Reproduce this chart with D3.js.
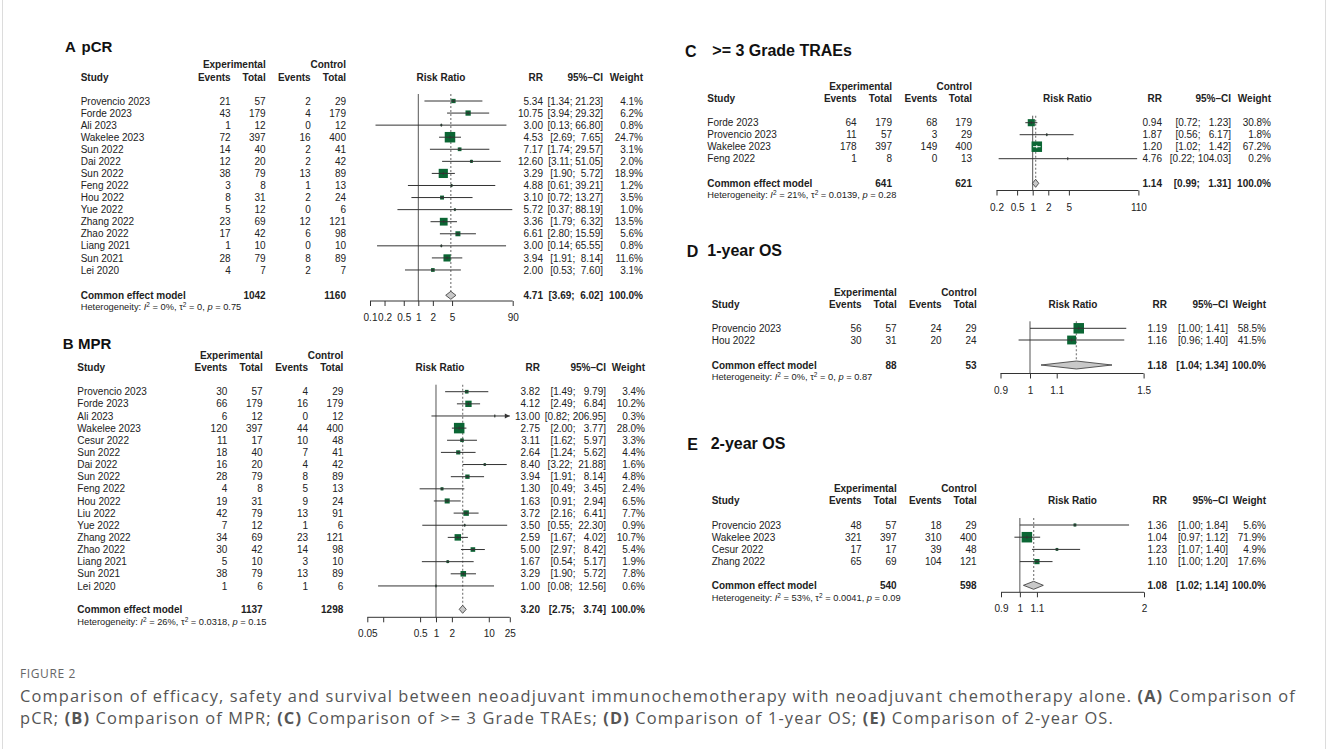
<!DOCTYPE html>
<html>
<head>
<meta charset="utf-8">
<script src="https://cdn.jsdelivr.net/npm/d3@7"></script>
<style>
  body { margin: 0; background: #fff; }
  svg text { font-family: "Liberation Sans", Arial, Helvetica, sans-serif; fill: #222; }
  svg text.cap { font-family: "Open Sans", "Noto Sans", sans-serif; }
</style>
</head>
<body>
<svg id="fig" width="1328" height="749"></svg>
<script>
/***************************************************************
    Data
****************************************************************/
// A - pCR
const pcrStudy = ["Provencio 2023", "Forde 2023", "Ali 2023", "Wakelee 2023", "Sun 2022", "Dai 2022", "Sun 2022", "Feng 2022",
                  "Hou 2022", "Yue 2022", "Zhang 2022", "Zhao 2022", "Liang 2021", "Sun 2021", "Lei 2020"];
const pcrExpEvents = [21, 43, 1, 72, 14, 12, 38, 3, 8, 5, 23, 17, 1, 28, 4];
const pcrExpTotal = [57, 179, 12, 397, 40, 20, 79, 8, 31, 12, 69, 42, 10, 79, 7];
const pcrCtlEvents = [2, 4, 0, 16, 2, 2, 13, 1, 2, 0, 12, 6, 0, 8, 2];
const pcrCtlTotal = [29, 179, 12, 400, 41, 42, 89, 13, 24, 6, 121, 98, 10, 89, 7];
const pcrRR = [5.34, 10.75, 3.00, 4.53, 7.17, 12.60, 3.29, 4.88, 3.10, 5.72, 3.36, 6.61, 3.00, 3.94, 2.00];
const pcrLower = [1.34, 3.94, 0.13, 2.69, 1.74, 3.11, 1.90, 0.61, 0.72, 0.37, 1.79, 2.80, 0.14, 1.91, 0.53];
const pcrUpper = [21.23, 29.32, 66.80, 7.65, 29.57, 51.05, 5.72, 39.21, 13.27, 88.19, 6.32, 15.59, 65.55, 8.14, 7.60];
const pcrWeight = [4.1, 6.2, 0.8, 24.7, 3.1, 2.0, 18.9, 1.2, 3.5, 1.0, 13.5, 5.6, 0.8, 11.6, 3.1];
const pcrPooled = [4.71, 3.69, 6.02];
const pcrTotals = [1042, 1160];
const pcrHet = ["0%", "0", "0.75"];
const pcrTicks = [0.1, 0.2, 0.5, 1, 2, 5, 90];
const pcrTickLabels = ["0.1", "0.2", "0.5", "1", "2", "5", "90"];

// B - MPR
const mprStudy = ["Provencio 2023", "Forde 2023", "Ali 2023", "Wakelee 2023", "Cesur 2022", "Sun 2022", "Dai 2022", "Sun 2022",
                  "Feng 2022", "Hou 2022", "Liu 2022", "Yue 2022", "Zhang 2022", "Zhao 2022", "Liang 2021", "Sun 2021", "Lei 2020"];
const mprExpEvents = [30, 66, 6, 120, 11, 18, 16, 28, 4, 19, 42, 7, 34, 30, 5, 38, 1];
const mprExpTotal = [57, 179, 12, 397, 17, 40, 20, 79, 8, 31, 79, 12, 69, 42, 10, 79, 6];
const mprCtlEvents = [4, 16, 0, 44, 10, 7, 4, 8, 5, 9, 13, 1, 23, 14, 3, 13, 1];
const mprCtlTotal = [29, 179, 12, 400, 48, 41, 42, 89, 13, 24, 91, 6, 121, 98, 10, 89, 6];
const mprRR = [3.82, 4.12, 13.00, 2.75, 3.11, 2.64, 8.40, 3.94, 1.30, 1.63, 3.72, 3.50, 2.59, 5.00, 1.67, 3.29, 1.00];
const mprLower = [1.49, 2.49, 0.82, 2.00, 1.62, 1.24, 3.22, 1.91, 0.49, 0.91, 2.16, 0.55, 1.67, 2.97, 0.54, 1.90, 0.08];
const mprUpper = [9.79, 6.84, 206.95, 3.77, 5.97, 5.62, 21.88, 8.14, 3.45, 2.94, 6.41, 22.30, 4.02, 8.42, 5.17, 5.72, 12.56];
const mprWeight = [3.4, 10.2, 0.3, 28.0, 3.3, 4.4, 1.6, 4.8, 2.4, 6.5, 7.7, 0.9, 10.7, 5.4, 1.9, 7.8, 0.6];
const mprPooled = [3.20, 2.75, 3.74];
const mprTotals = [1137, 1298];
const mprHet = ["26%", "0.0318", "0.15"];
const mprTicks = [0.05, 0.1, 0.5, 1, 2, 10, 25];
const mprTickLabels = ["0.05", "", "0.5", "1", "2", "10", "25"];

// C - >= 3 Grade TRAEs
const traeStudy = ["Forde 2023", "Provencio 2023", "Wakelee 2023", "Feng 2022"];
const traeExpEvents = [64, 11, 178, 1];
const traeExpTotal = [179, 57, 397, 8];
const traeCtlEvents = [68, 3, 149, 0];
const traeCtlTotal = [179, 29, 400, 13];
const traeRR = [0.94, 1.87, 1.20, 4.76];
const traeLower = [0.72, 0.56, 1.02, 0.22];
const traeUpper = [1.23, 6.17, 1.42, 104.03];
const traeWeight = [30.8, 1.8, 67.2, 0.2];
const traePooled = [1.14, 0.99, 1.31];
const traeTotals = [641, 621];
const traeHet = ["21%", "0.0139", "0.28"];
const traeTicks = [0.2, 0.5, 1, 2, 5, 110];
const traeTickLabels = ["0.2", "0.5", "1", "2", "5", "110"];

// D - 1-year OS
const os1Study = ["Provencio 2023", "Hou 2022"];
const os1ExpEvents = [56, 30];
const os1ExpTotal = [57, 31];
const os1CtlEvents = [24, 20];
const os1CtlTotal = [29, 24];
const os1RR = [1.19, 1.16];
const os1Lower = [1.00, 0.96];
const os1Upper = [1.41, 1.40];
const os1Weight = [58.5, 41.5];
const os1Pooled = [1.18, 1.04, 1.34];
const os1Totals = [88, 53];
const os1Het = ["0%", "0", "0.87"];
const os1Ticks = [0.9, 1, 1.1, 1.5];
const os1TickLabels = ["0.9", "1", "1.1", "1.5"];

// E - 2-year OS
const os2Study = ["Provencio 2023", "Wakelee 2023", "Cesur 2022", "Zhang 2022"];
const os2ExpEvents = [48, 321, 17, 65];
const os2ExpTotal = [57, 397, 17, 69];
const os2CtlEvents = [18, 310, 39, 104];
const os2CtlTotal = [29, 400, 48, 121];
const os2RR = [1.36, 1.04, 1.23, 1.10];
const os2Lower = [1.00, 0.97, 1.07, 1.00];
const os2Upper = [1.84, 1.12, 1.40, 1.20];
const os2Weight = [5.6, 71.9, 4.9, 17.6];
const os2Pooled = [1.08, 1.02, 1.14];
const os2Totals = [540, 598];
const os2Het = ["53%", "0.0041", "0.09"];
const os2Ticks = [0.9, 1, 1.1, 2];
const os2TickLabels = ["0.9", "1", "1.1", "2"];

const captionLine1 = ["Comparison of efficacy, safety and survival between neoadjuvant immunochemotherapy with neoadjuvant chemotherapy alone. ", "(A)", " Comparison of"];
const captionLine2 = ["pCR; ", "(B)", " Comparison of MPR; ", "(C)", " Comparison of >= 3 Grade TRAEs; ", "(D)", " Comparison of 1-year OS; ", "(E)", " Comparison of 2-year OS."];

/***************************************************************
    Panel layout
****************************************************************/
const panels = [
  { label: "A", title: "pCR", titleSize: 15, labelX: 65, titleX: 81.5, labelY: 51.5, titleY: 51.5,
    study: pcrStudy, expE: pcrExpEvents, expN: pcrExpTotal, ctlE: pcrCtlEvents, ctlN: pcrCtlTotal,
    rr: pcrRR, lo: pcrLower, hi: pcrUpper, w: pcrWeight, pooled: pcrPooled, totals: pcrTotals, het: pcrHet,
    ticks: pcrTicks, tickLabels: pcrTickLabels,
    studyX: 80.7, cols: [230.7, 265.7, 310.7, 346], head1Y: 64.3, head2Y: 77.3,
    row0: 101, rowStep: 12.07, pooledY: 295.3, hetY: 306.7, axisY: 301,
    domain: [0.1, 90], range: [370, 512.7], riskX: 441, rrX: 543, ciX: 603, wX: 643 },
  { label: "B", title: "MPR", titleSize: 15, labelX: 62.7, titleX: 78, labelY: 348.5, titleY: 348.5,
    study: mprStudy, expE: mprExpEvents, expN: mprExpTotal, ctlE: mprCtlEvents, ctlN: mprCtlTotal,
    rr: mprRR, lo: mprLower, hi: mprUpper, w: mprWeight, pooled: mprPooled, totals: mprTotals, het: mprHet,
    ticks: mprTicks, tickLabels: mprTickLabels,
    studyX: 77.3, cols: [227.3, 262.7, 308, 343.3], head1Y: 355.3, head2Y: 367.3,
    row0: 391.7, rowStep: 12.14, pooledY: 609.3, hetY: 622, axisY: 617.3,
    domain: [0.05, 25], range: [367.3, 509.8], riskX: 440, rrX: 540, ciX: 606, wX: 645 },
  { label: "C", title: ">= 3 Grade TRAEs", titleSize: 16, labelX: 685, titleX: 712.3, labelY: 57.3, titleY: 55.5,
    study: traeStudy, expE: traeExpEvents, expN: traeExpTotal, ctlE: traeCtlEvents, ctlN: traeCtlTotal,
    rr: traeRR, lo: traeLower, hi: traeUpper, w: traeWeight, pooled: traePooled, totals: traeTotals, het: traeHet,
    ticks: traeTicks, tickLabels: traeTickLabels,
    studyX: 707.3, cols: [856.7, 892, 937.3, 972], head1Y: 86, head2Y: 98.7,
    row0: 122.7, rowStep: 12, pooledY: 183.3, hetY: 195, axisY: 190.5,
    domain: [0.2, 110], range: [996.5, 1138.4], riskX: 1067.5, rrX: 1162, ciX: 1231, wX: 1271 },
  { label: "D", title: "1-year OS", titleSize: 16, labelX: 686.7, titleX: 707.3, labelY: 257.3, titleY: 256,
    study: os1Study, expE: os1ExpEvents, expN: os1ExpTotal, ctlE: os1CtlEvents, ctlN: os1CtlTotal,
    rr: os1RR, lo: os1Lower, hi: os1Upper, w: os1Weight, pooled: os1Pooled, totals: os1Totals, het: os1Het,
    ticks: os1Ticks, tickLabels: os1TickLabels,
    studyX: 711.7, cols: [861.7, 896.7, 941.7, 976.7], head1Y: 292, head2Y: 304,
    row0: 328.3, rowStep: 11.7, pooledY: 365, hetY: 376.7, axisY: 373.5,
    domain: [0.9, 1.5], range: [1000.5, 1143.6], riskX: 1073, rrX: 1167, ciX: 1228, wX: 1266 },
  { label: "E", title: "2-year OS", titleSize: 16, labelX: 687.3, titleX: 710.7, labelY: 450, titleY: 448.5,
    study: os2Study, expE: os2ExpEvents, expN: os2ExpTotal, ctlE: os2CtlEvents, ctlN: os2CtlTotal,
    rr: os2RR, lo: os2Lower, hi: os2Upper, w: os2Weight, pooled: os2Pooled, totals: os2Totals, het: os2Het,
    ticks: os2Ticks, tickLabels: os2TickLabels,
    studyX: 711.7, cols: [861.7, 896.7, 941.7, 976.7], head1Y: 488.7, head2Y: 500.7,
    row0: 525, rowStep: 12.2, pooledY: 585.3, hetY: 598, axisY: 592.3,
    domain: [0.9, 2], range: [1001, 1144], riskX: 1072.5, rrX: 1167, ciX: 1228, wX: 1266 }
];

const squareColor = "#0b6634";
const lineColor = "#333";
const fmt2 = d3.format(".2f");
const fmtW = d3.format(".1f");
const TXT = 3.6; // center -> baseline for 10px text

/***************************************************************
    Drawing
****************************************************************/
const svg = d3.select("#fig");
svg.append("rect").attr("width", 1328).attr("height", 749).attr("fill", "#fff");
// light frame of the figure box
svg.append("path").attr("d", "M2.5,0V749M1325.5,0V749").attr("stroke", "#dcdcdc").attr("fill", "none");

panels.forEach(p => drawForest(svg, p));
drawCaption(svg);

function ciStrings(lo, hi, pooled) {
  const L = lo.concat([pooled[1]]).map(fmt2);
  const H = hi.concat([pooled[2]]).map(fmt2);
  const wl = d3.max(L, s => s.length), wh = d3.max(H, s => s.length);
  return L.map((l, i) => "[" + l.padStart(wl) + "; " + H[i].padStart(wh) + "]");
}

function drawForest(svg, p) {
  const g = svg.append("g");
  const x = d3.scaleLog().domain(p.domain).range(p.range);
  const rowY = i => p.row0 + i * p.rowStep;
  const n = p.study.length;

  const txt = (s, xx, yy, anchor, bold, size) => g.append("text")
    .attr("x", xx).attr("y", yy).attr("text-anchor", anchor || "start")
    .attr("font-size", size || 10).attr("font-weight", bold ? "bold" : null)
    .style("white-space", "pre").text(s);

  // titles
  txt(p.label, p.labelX, p.labelY, "start", true, p.titleSize).style("fill", "#111");
  txt(p.title, p.titleX, p.titleY, "start", true, p.titleSize).style("fill", "#111");

  // headers
  txt("Experimental", p.cols[1], p.head1Y + TXT, "end", true);
  txt("Control", p.cols[3], p.head1Y + TXT, "end", true);
  txt("Study", p.studyX, p.head2Y + TXT, "start", true);
  txt("Events", p.cols[0], p.head2Y + TXT, "end", true);
  txt("Total", p.cols[1], p.head2Y + TXT, "end", true);
  txt("Events", p.cols[2], p.head2Y + TXT, "end", true);
  txt("Total", p.cols[3], p.head2Y + TXT, "end", true);
  txt("Risk Ratio", p.riskX, p.head2Y + TXT, "middle", true);
  txt("RR", p.rrX, p.head2Y + TXT, "end", true);
  txt("95%\u2013CI", p.ciX, p.head2Y + TXT, "end", true);
  txt("Weight", p.wX, p.head2Y + TXT, "end", true);

  const ci = ciStrings(p.lo, p.hi, p.pooled);

  // study rows (table)
  p.study.forEach((s, i) => {
    const y = rowY(i) + TXT;
    txt(s, p.studyX, y);
    txt(String(p.expE[i]), p.cols[0], y, "end");
    txt(String(p.expN[i]), p.cols[1], y, "end");
    txt(String(p.ctlE[i]), p.cols[2], y, "end");
    txt(String(p.ctlN[i]), p.cols[3], y, "end");
    txt(fmt2(p.rr[i]), p.rrX, y, "end");
    txt(ci[i], p.ciX, y, "end");
    txt(fmtW(p.w[i]) + "%", p.wX, y, "end");
  });

  // pooled row
  const py = p.pooledY + TXT;
  txt("Common effect model", p.studyX, py, "start", true);
  txt(String(p.totals[0]), p.cols[1], py, "end", true);
  txt(String(p.totals[1]), p.cols[3], py, "end", true);
  txt(fmt2(p.pooled[0]), p.rrX, py, "end", true);
  txt(ci[n], p.ciX, py, "end", true);
  txt("100.0%", p.wX, py, "end", true);

  // heterogeneity
  const h = g.append("text").attr("x", p.studyX).attr("y", p.hetY + 3.3).attr("font-size", 9.3).style("white-space", "pre");
  h.append("tspan").text("Heterogeneity: ");
  h.append("tspan").attr("font-style", "italic").text("I");
  h.append("tspan").attr("font-size", 6.5).attr("dy", -3.5).text("2");
  h.append("tspan").attr("dy", 3.5).text(" = " + p.het[0] + ", \u03c4");
  h.append("tspan").attr("font-size", 6.5).attr("dy", -3.5).text("2");
  h.append("tspan").attr("dy", 3.5).text(" = " + p.het[1] + ", ");
  h.append("tspan").attr("font-style", "italic").text("p");
  h.append("tspan").text(" = " + p.het[2]);

  // plot: reference lines
  const top = p.row0 - 7;
  g.append("line").attr("x1", x(1)).attr("x2", x(1)).attr("y1", top).attr("y2", p.axisY)
    .attr("stroke", "#555").attr("stroke-width", 1);
  g.append("line").attr("x1", x(p.pooled[0])).attr("x2", x(p.pooled[0])).attr("y1", top).attr("y2", p.pooledY)
    .attr("stroke", "#888").attr("stroke-width", 1.3).attr("stroke-dasharray", "2,2");

  // axis
  const axis = d3.axisBottom(x).tickValues(p.ticks).tickSize(5)
    .tickFormat((d, i) => p.tickLabels[i]);
  const ag = g.append("g").attr("transform", `translate(0,${p.axisY})`).call(axis);
  ag.select(".domain").attr("d", `M${p.range[0]},0H${p.range[1]}`).attr("stroke", "#333");
  ag.selectAll(".tick line").attr("stroke", "#333");
  ag.selectAll(".tick text").attr("font-size", 10).attr("y", 13).attr("dy", "0.71em")
    .attr("font-family", null).style("fill", "#222");

  // studies
  const wmax = d3.max(p.w);
  p.study.forEach((s, i) => {
    const y = rowY(i);
    const cx = x(p.rr[i]);
    const size = 10.5 * Math.sqrt(p.w[i] / wmax);
    const lo = Math.max(p.lo[i], p.domain[0]), hi = Math.min(p.hi[i], p.domain[1]);
    const x1 = x(lo), x2 = x(hi);
    g.append("rect").attr("x", cx - size / 2).attr("y", y - size / 2)
      .attr("width", size).attr("height", size).attr("fill", squareColor);
    const inside = x1 >= cx - size / 2 && x2 <= cx + size / 2;
    const c = inside ? "#fff" : lineColor;
    g.append("line").attr("x1", x1).attr("x2", x2).attr("y1", y).attr("y2", y)
      .attr("stroke", c).attr("stroke-width", 1);
    g.append("line").attr("x1", cx).attr("x2", cx).attr("y1", y - 1.5).attr("y2", y + 1.5)
      .attr("stroke", c).attr("stroke-width", 1);
    if (p.hi[i] > p.domain[1]) {
      g.append("path").attr("d", `M${x2},${y}l-5,-2.5v5z`).attr("fill", lineColor);
    }
    if (p.lo[i] < p.domain[0]) {
      g.append("path").attr("d", `M${x1},${y}l5,-2.5v5z`).attr("fill", lineColor);
    }
  });

  // diamond
  const dy = p.pooledY, dh = 4;
  g.append("path")
    .attr("d", `M${x(p.pooled[1])},${dy}L${x(p.pooled[0])},${dy - dh}L${x(p.pooled[2])},${dy}L${x(p.pooled[0])},${dy + dh}Z`)
    .attr("fill", "#c8c8c8").attr("stroke", "#333").attr("stroke-width", 0.8);
}

function drawCaption(svg) {
  svg.append("text").attr("class", "cap").attr("x", 20).attr("y", 678)
    .attr("font-size", 12).attr("letter-spacing", 0.6).style("fill", "#666").text("FIGURE 2");

  const lines = [captionLine1, captionLine2];
  const fs = 16.4;
  const nodes = lines.map((parts, li) => {
    const t = svg.append("text").attr("class", "cap").attr("x", 20).attr("y", 701.5 + li * 22.5)
      .attr("font-size", fs).style("fill", "#555").style("white-space", "pre");
    parts.forEach(s => {
      const bold = /^\([A-E]\)$/.test(s);
      t.append("tspan").attr("font-weight", bold ? "bold" : null).text(s);
    });
    return t;
  });
  // stretch the first line to the width it has in the figure with a little letter spacing
  const first = nodes[0];
  const chars = first.text().length;
  const ls = (1276 - first.node().getComputedTextLength()) / chars;
  nodes.forEach(t => t.attr("letter-spacing", ls));
}
</script>
</body>
</html>
